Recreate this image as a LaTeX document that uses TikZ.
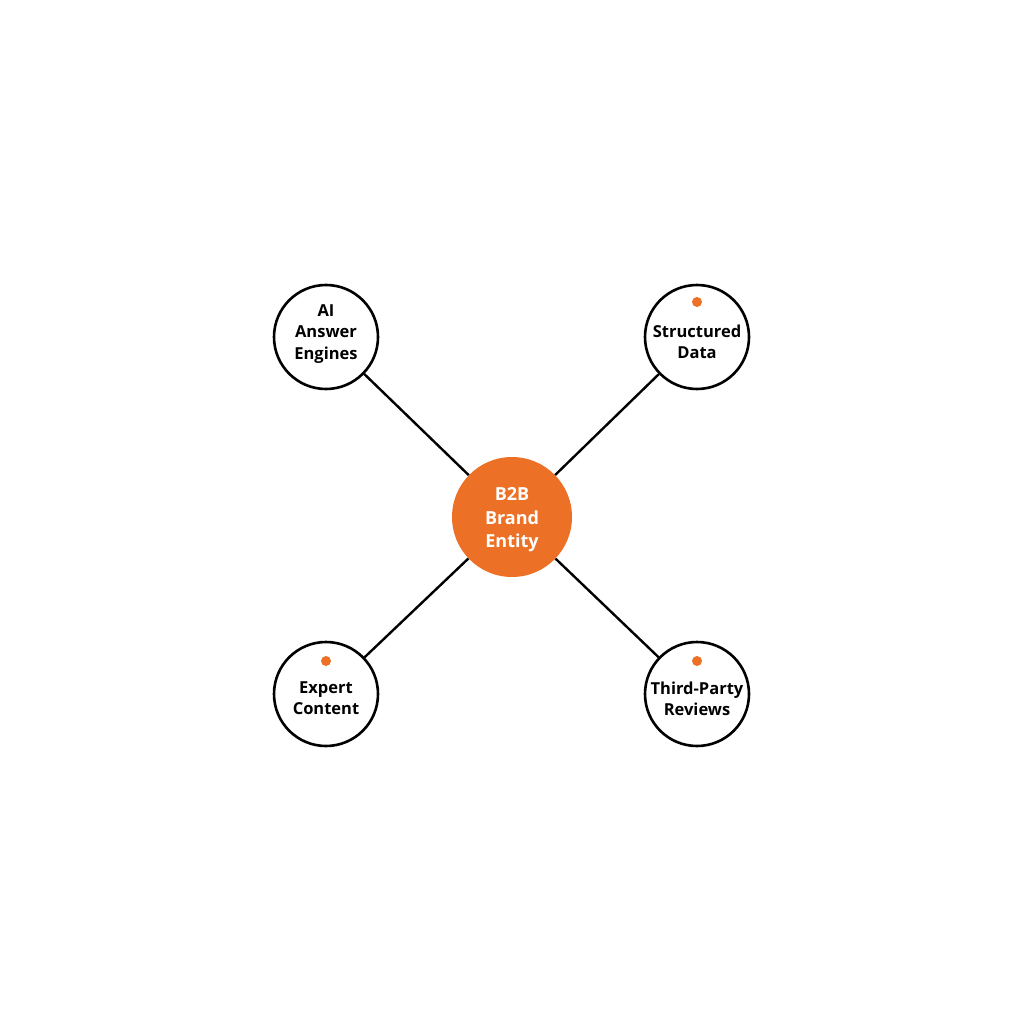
\documentclass[tikz,border=0pt]{standalone}
\usepackage{fontspec}
\setmainfont{Open Sans}
\definecolor{brandorange}{HTML}{EC7126}
\begin{document}
\begin{tikzpicture}[x=1pt,y=-1pt,
  outer/.style={circle,draw=black,line width=2.6pt,fill=white,minimum size=104pt,inner sep=0pt},
  hub/.style={circle,fill=brandorange,minimum size=120pt,inner sep=0pt},
  lbl/.style={align=center,inner sep=0pt,font=\fontsize{16.5}{21.5}\selectfont\fontseries{sb}\selectfont},
  hublbl/.style={align=center,inner sep=0pt,text=white,font=\fontsize{18}{23.5}\selectfont\fontseries{sb}\selectfont},
  link/.style={line width=2.4pt,draw=black},
  accent/.style={circle,fill=brandorange,minimum size=10pt,inner sep=0pt}]
\useasboundingbox (0,0) rectangle (1024,1024);
\fill[white] (0,0) rectangle (1024,1024);
\node[hub] (c) at (512,517) {};
\node[outer] (tl) at (326,337) {};
\node[outer] (tr) at (697,337) {};
\node[outer] (bl) at (326,694) {};
\node[outer] (br) at (697,694) {};
\draw[link] (c) -- (tl);
\draw[link] (c) -- (tr);
\draw[link] (c) -- (bl);
\draw[link] (c) -- (br);
\node[hublbl] (ct) at (512,520) {B2B\\Brand\\Entity};
\node[lbl] (tlt) at (326,334) {AI\\Answer\\Engines};
\node[lbl] (trt) at (697,342) {Structured\\Data};
\node[lbl] (blt) at (326,698) {Expert\\Content};
\node[lbl] (brt) at (697,699) {Third-Party\\Reviews};
\node[accent] (dtr) at (697,302) {};
\node[accent] (dbl) at (326,661) {};
\node[accent] (dbr) at (697,661) {};
\end{tikzpicture}
\end{document}
